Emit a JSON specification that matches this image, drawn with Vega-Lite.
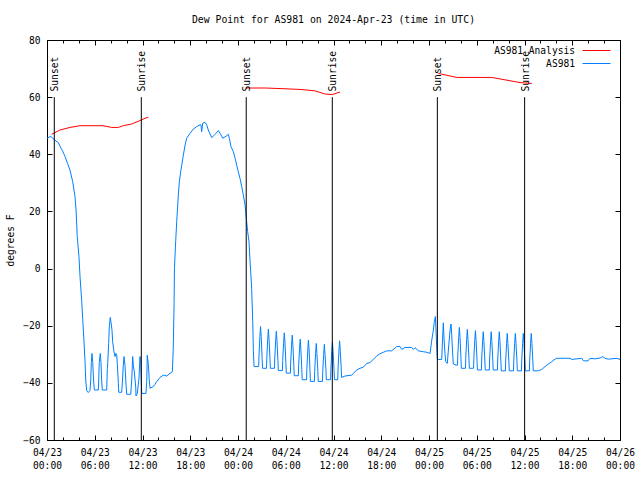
{
  "$schema": "https://vega.github.io/schema/vega-lite/v6.json",
  "width": 573,
  "height": 400,
  "autosize": {"type": "none"},
  "padding": {"left": 47, "top": 40, "right": 20, "bottom": 40},
  "background": "white",
  "title": {"text": "Dew Point for AS981 on 2024-Apr-23 (time in UTC)", "font": "DejaVu Sans Mono", "fontSize": 9.8, "fontWeight": "normal", "color": "black", "offset": 10},
  "config": {
    "font": "DejaVu Sans Mono",
    "view": {"stroke": "black", "strokeWidth": 1},
    "axis": {"domain": false, "grid": false, "tickColor": "black", "tickWidth": 1, "labelColor": "black", "labelFont": "DejaVu Sans Mono", "labelFontSize": 9.6, "titleFont": "DejaVu Sans Mono", "titleFontSize": 9.6, "titleFontWeight": "normal", "titleColor": "black"}
  },
  "datasets": {
    "blue": [
      {"t":"2024-04-23T00:00Z","v":45.6},{"t":"2024-04-23T00:15Z","v":46.0},{"t":"2024-04-23T00:30Z","v":46.2},{"t":"2024-04-23T00:53Z","v":45.2},{"t":"2024-04-23T01:08Z","v":44.6},{"t":"2024-04-23T01:25Z","v":44.1},{"t":"2024-04-23T01:46Z","v":42.1},{"t":"2024-04-23T02:01Z","v":40.8},{"t":"2024-04-23T02:16Z","v":39.2},{"t":"2024-04-23T02:35Z","v":36.8},{"t":"2024-04-23T02:53Z","v":34.5},{"t":"2024-04-23T03:14Z","v":30.4},{"t":"2024-04-23T03:31Z","v":25.2},{"t":"2024-04-23T03:39Z","v":20.5},{"t":"2024-04-23T03:48Z","v":11.2},{"t":"2024-04-23T04:01Z","v":4.2},{"t":"2024-04-23T04:09Z","v":-2.8},{"t":"2024-04-23T04:22Z","v":-11.6},{"t":"2024-04-23T04:29Z","v":-17.4},{"t":"2024-04-23T04:39Z","v":-25.6},{"t":"2024-04-23T04:47Z","v":-32.9},{"t":"2024-04-23T04:52Z","v":-39},{"t":"2024-04-23T04:59Z","v":-42.7},{"t":"2024-04-23T05:11Z","v":-43.4},{"t":"2024-04-23T05:24Z","v":-42.7},
      {"t":"2024-04-23T05:30Z","v":-39},{"t":"2024-04-23T05:34Z","v":-32.9},{"t":"2024-04-23T05:39Z","v":-29.7},{"t":"2024-04-23T05:45Z","v":-32.9},{"t":"2024-04-23T05:51Z","v":-39},{"t":"2024-04-23T05:57Z","v":-42.5},{"t":"2024-04-23T06:27Z","v":-42.5},
      {"t":"2024-04-23T06:30Z","v":-39},{"t":"2024-04-23T06:34Z","v":-32.9},{"t":"2024-04-23T06:42Z","v":-29.7},{"t":"2024-04-23T06:47Z","v":-32.9},{"t":"2024-04-23T06:52Z","v":-39},{"t":"2024-04-23T06:57Z","v":-42.5},{"t":"2024-04-23T07:30Z","v":-42.5},
      {"t":"2024-04-23T07:35Z","v":-35},{"t":"2024-04-23T07:38Z","v":-32.9},{"t":"2024-04-23T07:45Z","v":-26.2},{"t":"2024-04-23T07:50Z","v":-20.3},{"t":"2024-04-23T07:57Z","v":-17.1},{"t":"2024-04-23T08:03Z","v":-19},{"t":"2024-04-23T08:10Z","v":-21.5},{"t":"2024-04-23T08:15Z","v":-25.6},{"t":"2024-04-23T08:25Z","v":-29.1},{"t":"2024-04-23T08:33Z","v":-30.8},{"t":"2024-04-23T08:40Z","v":-29.7},{"t":"2024-04-23T08:46Z","v":-30.5},{"t":"2024-04-23T08:50Z","v":-33.2},{"t":"2024-04-23T08:58Z","v":-40.2},{"t":"2024-04-23T09:01Z","v":-43.3},{"t":"2024-04-23T09:23Z","v":-43.3},
      {"t":"2024-04-23T09:28Z","v":-40},{"t":"2024-04-23T09:35Z","v":-34},{"t":"2024-04-23T09:41Z","v":-30.8},{"t":"2024-04-23T09:48Z","v":-34},{"t":"2024-04-23T09:56Z","v":-40.8},{"t":"2024-04-23T10:01Z","v":-44},{"t":"2024-04-23T10:31Z","v":-44},
      {"t":"2024-04-23T10:39Z","v":-39},{"t":"2024-04-23T10:46Z","v":-30.8},{"t":"2024-04-23T10:51Z","v":-34},{"t":"2024-04-23T10:58Z","v":-36},{"t":"2024-04-23T11:09Z","v":-41.5},{"t":"2024-04-23T11:11Z","v":-44.6},{"t":"2024-04-23T11:21Z","v":-43.8},{"t":"2024-04-23T11:34Z","v":-38},{"t":"2024-04-23T11:41Z","v":-30.8},{"t":"2024-04-23T11:47Z","v":-33},{"t":"2024-04-23T11:54Z","v":-43.7},{"t":"2024-04-23T12:26Z","v":-43.7},
      {"t":"2024-04-23T12:32Z","v":-39.5},{"t":"2024-04-23T12:36Z","v":-30.3},{"t":"2024-04-23T12:44Z","v":-33.5},{"t":"2024-04-23T12:51Z","v":-39},{"t":"2024-04-23T12:57Z","v":-41.9},{"t":"2024-04-23T13:21Z","v":-41.3},{"t":"2024-04-23T13:34Z","v":-40.5},{"t":"2024-04-23T13:47Z","v":-39.6},{"t":"2024-04-23T14:12Z","v":-38.1},{"t":"2024-04-23T14:37Z","v":-37.3},{"t":"2024-04-23T15:03Z","v":-37.6},{"t":"2024-04-23T15:27Z","v":-36.7},{"t":"2024-04-23T15:45Z","v":-36.1},{"t":"2024-04-23T15:52Z","v":-27.9},{"t":"2024-04-23T15:58Z","v":-12.2},{"t":"2024-04-23T16:01Z","v":0.1},{"t":"2024-04-23T16:10Z","v":9.4},{"t":"2024-04-23T16:18Z","v":16.4},{"t":"2024-04-23T16:30Z","v":25.8},{"t":"2024-04-23T16:38Z","v":30.4},{"t":"2024-04-23T16:48Z","v":33.9},{"t":"2024-04-23T16:56Z","v":36.2},{"t":"2024-04-23T17:08Z","v":39.7},{"t":"2024-04-23T17:21Z","v":43.2},{"t":"2024-04-23T17:33Z","v":45.6},{"t":"2024-04-23T17:58Z","v":47.3},{"t":"2024-04-23T18:23Z","v":48.8},{"t":"2024-04-23T18:49Z","v":49.7},{"t":"2024-04-23T19:14Z","v":50.3},{"t":"2024-04-23T19:21Z","v":50.3},{"t":"2024-04-23T19:26Z","v":47.9},{"t":"2024-04-23T19:34Z","v":50.9},{"t":"2024-04-23T19:51Z","v":51.2},{"t":"2024-04-23T20:04Z","v":50.3},{"t":"2024-04-23T20:16Z","v":48.5},{"t":"2024-04-23T20:42Z","v":45.8},{"t":"2024-04-23T21:07Z","v":47},{"t":"2024-04-23T21:32Z","v":48.3},{"t":"2024-04-23T21:52Z","v":46.8},{"t":"2024-04-23T22:05Z","v":45.6},{"t":"2024-04-23T22:35Z","v":46.5},{"t":"2024-04-23T22:47Z","v":47},{"t":"2024-04-23T22:55Z","v":45.6},{"t":"2024-04-23T23:07Z","v":42.7},{"t":"2024-04-23T23:25Z","v":40.9},{"t":"2024-04-23T23:38Z","v":38.6},{"t":"2024-04-23T23:50Z","v":36.2},
      {"t":"2024-04-24T00:02Z","v":33.9},{"t":"2024-04-24T00:15Z","v":31.6},{"t":"2024-04-24T00:28Z","v":28.7},{"t":"2024-04-24T00:40Z","v":25.8},{"t":"2024-04-24T00:53Z","v":22.3},{"t":"2024-04-24T01:00Z","v":18.8},{"t":"2024-04-24T01:13Z","v":12.9},{"t":"2024-04-24T01:23Z","v":9.4},{"t":"2024-04-24T01:31Z","v":2.4},{"t":"2024-04-24T01:43Z","v":-6.9},{"t":"2024-04-24T01:51Z","v":-18.6},{"t":"2024-04-24T01:56Z","v":-29.1},{"t":"2024-04-24T02:01Z","v":-34.3},
      {"t":"2024-04-24T02:36Z","v":-34.3},{"t":"2024-04-24T02:38Z","v":-30.8},{"t":"2024-04-24T02:45Z","v":-23.8},{"t":"2024-04-24T02:50Z","v":-20.3},{"t":"2024-04-24T02:55Z","v":-23.8},{"t":"2024-04-24T03:02Z","v":-31.4},{"t":"2024-04-24T03:05Z","v":-34.9},
      {"t":"2024-04-24T03:35Z","v":-34.9},{"t":"2024-04-24T03:37Z","v":-31.4},{"t":"2024-04-24T03:44Z","v":-24.7},{"t":"2024-04-24T03:49Z","v":-21.2},{"t":"2024-04-24T03:54Z","v":-24.7},{"t":"2024-04-24T04:01Z","v":-31.4},{"t":"2024-04-24T04:04Z","v":-34.9},
      {"t":"2024-04-24T04:35Z","v":-34.9},{"t":"2024-04-24T04:37Z","v":-31.4},{"t":"2024-04-24T04:44Z","v":-25.4},{"t":"2024-04-24T04:49Z","v":-21.9},{"t":"2024-04-24T04:54Z","v":-25.4},{"t":"2024-04-24T05:01Z","v":-32.2},{"t":"2024-04-24T05:04Z","v":-35.7},
      {"t":"2024-04-24T05:35Z","v":-35.7},{"t":"2024-04-24T05:37Z","v":-32.2},{"t":"2024-04-24T05:44Z","v":-26},{"t":"2024-04-24T05:49Z","v":-22.5},{"t":"2024-04-24T05:54Z","v":-26},{"t":"2024-04-24T06:01Z","v":-33.1},{"t":"2024-04-24T06:04Z","v":-36.6},
      {"t":"2024-04-24T06:35Z","v":-36.6},{"t":"2024-04-24T06:37Z","v":-33.1},{"t":"2024-04-24T06:44Z","v":-26.8},{"t":"2024-04-24T06:49Z","v":-23.3},{"t":"2024-04-24T06:54Z","v":-26.8},{"t":"2024-04-24T07:01Z","v":-34},{"t":"2024-04-24T07:04Z","v":-37.5},
      {"t":"2024-04-24T07:35Z","v":-37.5},{"t":"2024-04-24T07:37Z","v":-34},{"t":"2024-04-24T07:44Z","v":-28.2},{"t":"2024-04-24T07:49Z","v":-24.7},{"t":"2024-04-24T07:54Z","v":-28.2},{"t":"2024-04-24T08:01Z","v":-35.4},{"t":"2024-04-24T08:04Z","v":-38.9},
      {"t":"2024-04-24T08:37Z","v":-38.9},{"t":"2024-04-24T08:39Z","v":-35.4},{"t":"2024-04-24T08:46Z","v":-28.5},{"t":"2024-04-24T08:51Z","v":-25},{"t":"2024-04-24T08:56Z","v":-28.5},{"t":"2024-04-24T09:03Z","v":-36},{"t":"2024-04-24T09:06Z","v":-39.5},
      {"t":"2024-04-24T09:36Z","v":-39.5},{"t":"2024-04-24T09:38Z","v":-36},{"t":"2024-04-24T09:45Z","v":-29.7},{"t":"2024-04-24T09:50Z","v":-26.2},{"t":"2024-04-24T09:55Z","v":-29.7},{"t":"2024-04-24T10:02Z","v":-36},{"t":"2024-04-24T10:05Z","v":-39.5},
      {"t":"2024-04-24T10:37Z","v":-39.5},{"t":"2024-04-24T10:39Z","v":-36},{"t":"2024-04-24T10:46Z","v":-30},{"t":"2024-04-24T10:51Z","v":-26.5},{"t":"2024-04-24T10:56Z","v":-30},{"t":"2024-04-24T11:03Z","v":-35.4},{"t":"2024-04-24T11:06Z","v":-38.9},
      {"t":"2024-04-24T11:38Z","v":-38.9},{"t":"2024-04-24T11:40Z","v":-35.4},{"t":"2024-04-24T11:47Z","v":-29.1},{"t":"2024-04-24T11:52Z","v":-25.6},{"t":"2024-04-24T11:57Z","v":-29.1},{"t":"2024-04-24T12:04Z","v":-35.4},{"t":"2024-04-24T12:07Z","v":-38.9},
      {"t":"2024-04-24T12:32Z","v":-38.9},{"t":"2024-04-24T12:34Z","v":-35.4},{"t":"2024-04-24T12:41Z","v":-28.8},{"t":"2024-04-24T12:46Z","v":-25.3},{"t":"2024-04-24T12:51Z","v":-28.8},{"t":"2024-04-24T12:58Z","v":-34.6},{"t":"2024-04-24T13:01Z","v":-38.1},
      {"t":"2024-04-24T13:27Z","v":-37.6},{"t":"2024-04-24T14:17Z","v":-37.3},{"t":"2024-04-24T14:30Z","v":-36.7},{"t":"2024-04-24T14:55Z","v":-35.5},{"t":"2024-04-24T15:20Z","v":-34.9},{"t":"2024-04-24T15:45Z","v":-34.5},{"t":"2024-04-24T16:11Z","v":-33.2},{"t":"2024-04-24T16:35Z","v":-32.9},{"t":"2024-04-24T17:00Z","v":-31.8},{"t":"2024-04-24T17:26Z","v":-30.6},{"t":"2024-04-24T17:46Z","v":-29.9},{"t":"2024-04-24T18:16Z","v":-29.3},{"t":"2024-04-24T18:41Z","v":-28.8},{"t":"2024-04-24T19:19Z","v":-28.8},{"t":"2024-04-24T19:57Z","v":-27.3},{"t":"2024-04-24T20:22Z","v":-27.3},{"t":"2024-04-24T20:35Z","v":-28.3},{"t":"2024-04-24T20:59Z","v":-27.6},{"t":"2024-04-24T21:50Z","v":-27.6},{"t":"2024-04-24T22:02Z","v":-28.3},{"t":"2024-04-24T22:15Z","v":-27.7},{"t":"2024-04-24T22:40Z","v":-28.8},{"t":"2024-04-24T23:17Z","v":-29.1},{"t":"2024-04-24T23:43Z","v":-29.3},
      {"t":"2024-04-25T00:08Z","v":-29.7},{"t":"2024-04-25T00:21Z","v":-25},{"t":"2024-04-25T00:33Z","v":-21.5},{"t":"2024-04-25T00:40Z","v":-18.6},{"t":"2024-04-25T00:48Z","v":-16.8},{"t":"2024-04-25T00:53Z","v":-21.5},{"t":"2024-04-25T00:58Z","v":-27.6},{"t":"2024-04-25T01:03Z","v":-31.8},{"t":"2024-04-25T01:36Z","v":-31.8},{"t":"2024-04-25T01:42Z","v":-25},{"t":"2024-04-25T01:48Z","v":-19},{"t":"2024-04-25T01:54Z","v":-25},{"t":"2024-04-25T02:01Z","v":-30},{"t":"2024-04-25T02:06Z","v":-32.6},{"t":"2024-04-25T02:18Z","v":-33.2},{"t":"2024-04-25T02:26Z","v":-28.5},{"t":"2024-04-25T02:39Z","v":-21.5},{"t":"2024-04-25T02:46Z","v":-19.4},{"t":"2024-04-25T02:51Z","v":-23},{"t":"2024-04-25T02:57Z","v":-28.5},{"t":"2024-04-25T03:03Z","v":-33.4},{"t":"2024-04-25T03:24Z","v":-33.8},
      {"t":"2024-04-25T03:35Z","v":-33.8},{"t":"2024-04-25T03:37Z","v":-30.3},{"t":"2024-04-25T03:44Z","v":-24.1},{"t":"2024-04-25T03:49Z","v":-20.6},{"t":"2024-04-25T03:54Z","v":-24.1},{"t":"2024-04-25T04:01Z","v":-31.4},{"t":"2024-04-25T04:04Z","v":-34.9},
      {"t":"2024-04-25T04:35Z","v":-34.9},{"t":"2024-04-25T04:37Z","v":-31.4},{"t":"2024-04-25T04:44Z","v":-24.8},{"t":"2024-04-25T04:49Z","v":-21.3},{"t":"2024-04-25T04:54Z","v":-24.8},{"t":"2024-04-25T05:01Z","v":-31.4},{"t":"2024-04-25T05:04Z","v":-34.9},
      {"t":"2024-04-25T05:36Z","v":-34.9},{"t":"2024-04-25T05:38Z","v":-31.4},{"t":"2024-04-25T05:45Z","v":-25.2},{"t":"2024-04-25T05:50Z","v":-21.7},{"t":"2024-04-25T05:55Z","v":-25.2},{"t":"2024-04-25T06:02Z","v":-32},{"t":"2024-04-25T06:05Z","v":-35.5},
      {"t":"2024-04-25T06:35Z","v":-35.5},{"t":"2024-04-25T06:37Z","v":-32},{"t":"2024-04-25T06:44Z","v":-25.6},{"t":"2024-04-25T06:49Z","v":-22.1},{"t":"2024-04-25T06:54Z","v":-25.6},{"t":"2024-04-25T07:01Z","v":-32},{"t":"2024-04-25T07:04Z","v":-35.5},
      {"t":"2024-04-25T07:35Z","v":-35.5},{"t":"2024-04-25T07:37Z","v":-32},{"t":"2024-04-25T07:44Z","v":-25.6},{"t":"2024-04-25T07:49Z","v":-22.1},{"t":"2024-04-25T07:54Z","v":-25.6},{"t":"2024-04-25T08:01Z","v":-32},{"t":"2024-04-25T08:04Z","v":-35.5},
      {"t":"2024-04-25T08:36Z","v":-35.5},{"t":"2024-04-25T08:38Z","v":-32},{"t":"2024-04-25T08:45Z","v":-25.6},{"t":"2024-04-25T08:50Z","v":-22.1},{"t":"2024-04-25T08:55Z","v":-25.6},{"t":"2024-04-25T09:02Z","v":-32.3},{"t":"2024-04-25T09:05Z","v":-35.8},
      {"t":"2024-04-25T09:36Z","v":-35.8},{"t":"2024-04-25T09:38Z","v":-32.3},{"t":"2024-04-25T09:45Z","v":-26.2},{"t":"2024-04-25T09:50Z","v":-22.7},{"t":"2024-04-25T09:55Z","v":-26.2},{"t":"2024-04-25T10:02Z","v":-32.3},{"t":"2024-04-25T10:05Z","v":-35.8},
      {"t":"2024-04-25T10:37Z","v":-35.8},{"t":"2024-04-25T10:39Z","v":-32.3},{"t":"2024-04-25T10:46Z","v":-26.2},{"t":"2024-04-25T10:51Z","v":-22.7},{"t":"2024-04-25T10:56Z","v":-26.2},{"t":"2024-04-25T11:03Z","v":-32.3},{"t":"2024-04-25T11:06Z","v":-35.8},
      {"t":"2024-04-25T11:37Z","v":-35.8},{"t":"2024-04-25T11:39Z","v":-32.3},{"t":"2024-04-25T11:46Z","v":-26.2},{"t":"2024-04-25T11:51Z","v":-22.7},{"t":"2024-04-25T11:56Z","v":-26.2},{"t":"2024-04-25T12:03Z","v":-32.3},{"t":"2024-04-25T12:06Z","v":-35.8},
      {"t":"2024-04-25T12:37Z","v":-35.8},{"t":"2024-04-25T12:39Z","v":-32.3},{"t":"2024-04-25T12:46Z","v":-26.2},{"t":"2024-04-25T12:51Z","v":-22.7},{"t":"2024-04-25T12:56Z","v":-26.2},{"t":"2024-04-25T13:03Z","v":-32.3},{"t":"2024-04-25T13:06Z","v":-35.8},
      {"t":"2024-04-25T13:44Z","v":-35.8},{"t":"2024-04-25T14:10Z","v":-35.3},{"t":"2024-04-25T14:35Z","v":-34.3},{"t":"2024-04-25T15:00Z","v":-33.4},{"t":"2024-04-25T15:25Z","v":-32.6},{"t":"2024-04-25T15:50Z","v":-31.7},{"t":"2024-04-25T16:03Z","v":-31.4},{"t":"2024-04-25T17:43Z","v":-31.4},{"t":"2024-04-25T17:56Z","v":-31.8},{"t":"2024-04-25T19:12Z","v":-31.4},{"t":"2024-04-25T19:24Z","v":-32.3},{"t":"2024-04-25T19:59Z","v":-32.3},{"t":"2024-04-25T20:14Z","v":-31.4},{"t":"2024-04-25T20:52Z","v":-31.6},{"t":"2024-04-25T21:30Z","v":-31.3},{"t":"2024-04-25T21:50Z","v":-30.8},{"t":"2024-04-25T22:07Z","v":-31.4},{"t":"2024-04-25T22:32Z","v":-31.7},{"t":"2024-04-25T23:36Z","v":-31.4},{"t":"2024-04-26T00:00Z","v":-31.8}
    ],
    "red": [
      {"t":"2024-04-23T00:35Z","v":47.0,"seg":1},{"t":"2024-04-23T01:38Z","v":48.5,"seg":1},{"t":"2024-04-23T02:53Z","v":49.4,"seg":1},{"t":"2024-04-23T04:09Z","v":50.0,"seg":1},{"t":"2024-04-23T07:02Z","v":50.0,"seg":1},{"t":"2024-04-23T08:08Z","v":49.4,"seg":1},{"t":"2024-04-23T08:58Z","v":49.4,"seg":1},{"t":"2024-04-23T09:35Z","v":50.0,"seg":1},{"t":"2024-04-23T10:38Z","v":50.6,"seg":1},{"t":"2024-04-23T11:41Z","v":51.8,"seg":1},{"t":"2024-04-23T12:19Z","v":52.6,"seg":1},{"t":"2024-04-23T12:44Z","v":53.0,"seg":1},
      {"t":"2024-04-24T01:00Z","v":63.2,"seg":2},{"t":"2024-04-24T03:24Z","v":63.2,"seg":2},{"t":"2024-04-24T05:17Z","v":63.0,"seg":2},{"t":"2024-04-24T07:48Z","v":62.7,"seg":2},{"t":"2024-04-24T09:41Z","v":62.2,"seg":2},{"t":"2024-04-24T10:56Z","v":61.1,"seg":2},{"t":"2024-04-24T11:49Z","v":60.9,"seg":2},{"t":"2024-04-24T12:49Z","v":61.8,"seg":2},
      {"t":"2024-04-25T01:10Z","v":68.3,"seg":3},{"t":"2024-04-25T03:29Z","v":66.9,"seg":3},{"t":"2024-04-25T07:53Z","v":66.9,"seg":3},{"t":"2024-04-25T11:26Z","v":65.1,"seg":3},{"t":"2024-04-25T12:55Z","v":64.8,"seg":3}
    ],
    "sun": [
      {"t":"2024-04-23T00:55Z","event":"Sunset"},{"t":"2024-04-23T11:51Z","event":"Sunrise"},
      {"t":"2024-04-24T01:02Z","event":"Sunset"},{"t":"2024-04-24T11:51Z","event":"Sunrise"},
      {"t":"2024-04-25T01:03Z","event":"Sunset"},{"t":"2024-04-25T12:01Z","event":"Sunrise"}
    ]
  },
  "resolve": {"axis": {"x": "independent", "y": "independent"}},
  "layer": [
    {
      "data": {"name": "blue"},
      "mark": {"type": "line", "strokeWidth": 1, "clip": true},
      "encoding": {
        "x": {"field": "t", "type": "temporal",
              "scale": {"type": "utc", "nice": false, "domain": [1713830400000, 1714089600000]},
              "axis": {"orient": "bottom", "title": null, "tickSize": -5,
                       "values": [1713830400000, 1713852000000, 1713873600000, 1713895200000, 1713916800000, 1713938400000, 1713960000000, 1713981600000, 1714003200000, 1714024800000, 1714046400000, 1714068000000, 1714089600000],
                       "labelExpr": "[utcFormat(datum.value, '%m/%d'), utcFormat(datum.value, '%H:%M')]",
                       "labelOverlap": false, "labelFlush": false, "labelBound": false, "labelPadding": 12, "labelLineHeight": 13}},
        "y": {"field": "v", "type": "quantitative",
              "scale": {"domain": [-60, 80], "nice": false, "zero": false},
              "axis": {"orient": "left", "title": "degrees F", "values": [-60, -40, -20, 0, 20, 40, 60, 80], "tickSize": -5, "labelPadding": 12, "titlePadding": 7, "labelFlush": false}},
        "color": {"datum": "AS981",
                  "scale": {"domain": ["AS981 Analysis", "AS981"], "range": ["#ff0000", "#0080ff"]},
                  "legend": {"title": null, "orient": "none", "legendX": 543, "legendY": 4, "padding": 0,
                             "symbolType": "M-2.5,0H2.5", "symbolSize": 125, "symbolStrokeWidth": 1,
                             "labelAlign": "right", "labelOffset": -28, "labelFont": "DejaVu Sans Mono", "labelFontSize": 9.6, "labelColor": "black", "rowPadding": 1}}
      }
    },
    {
      "data": {"name": "red"},
      "mark": {"type": "line", "strokeWidth": 1},
      "encoding": {
        "x": {"field": "t", "type": "temporal",
              "axis": {"orient": "bottom", "title": null, "labels": false, "tickSize": -3,
                       "values": [1713830400000, 1713837600000, 1713844800000, 1713852000000, 1713859200000, 1713866400000, 1713873600000, 1713880800000, 1713888000000, 1713895200000, 1713902400000, 1713909600000, 1713916800000, 1713924000000, 1713931200000, 1713938400000, 1713945600000, 1713952800000, 1713960000000, 1713967200000, 1713974400000, 1713981600000, 1713988800000, 1713996000000, 1714003200000, 1714010400000, 1714017600000, 1714024800000, 1714032000000, 1714039200000, 1714046400000, 1714053600000, 1714060800000, 1714068000000, 1714075200000, 1714082400000, 1714089600000]}},
        "y": {"field": "v", "type": "quantitative", "axis": null},
        "detail": {"field": "seg", "type": "nominal"},
        "color": {"datum": "AS981 Analysis"}
      }
    },
    {
      "data": {"name": "sun"},
      "mark": {"type": "rule", "color": "black", "strokeWidth": 1},
      "encoding": {
        "x": {"field": "t", "type": "temporal",
              "axis": {"orient": "top", "title": null, "labels": false, "tickSize": -5,
                       "values": [1713830400000, 1713852000000, 1713873600000, 1713895200000, 1713916800000, 1713938400000, 1713960000000, 1713981600000, 1714003200000, 1714024800000, 1714046400000, 1714068000000, 1714089600000]}},
        "y": {"datum": 60, "type": "quantitative",
              "axis": {"orient": "right", "title": null, "labels": false, "values": [-60, -40, -20, 0, 20, 40, 60, 80], "tickSize": -5}},
        "y2": {"datum": -60}
      }
    },
    {
      "data": {"name": "sun"},
      "mark": {"type": "text", "angle": 270, "align": "left", "baseline": "middle", "font": "DejaVu Sans Mono", "fontSize": 9.6, "color": "black", "dy": 1},
      "encoding": {
        "x": {"field": "t", "type": "temporal",
              "axis": {"orient": "top", "title": null, "labels": false, "tickSize": -3,
                       "values": [1713830400000, 1713837600000, 1713844800000, 1713852000000, 1713859200000, 1713866400000, 1713873600000, 1713880800000, 1713888000000, 1713895200000, 1713902400000, 1713909600000, 1713916800000, 1713924000000, 1713931200000, 1713938400000, 1713945600000, 1713952800000, 1713960000000, 1713967200000, 1713974400000, 1713981600000, 1713988800000, 1713996000000, 1714003200000, 1714010400000, 1714017600000, 1714024800000, 1714032000000, 1714039200000, 1714046400000, 1714053600000, 1714060800000, 1714068000000, 1714075200000, 1714082400000, 1714089600000]}},
        "y": {"datum": 62, "type": "quantitative", "axis": null},
        "text": {"field": "event"}
      }
    }
  ]
}
